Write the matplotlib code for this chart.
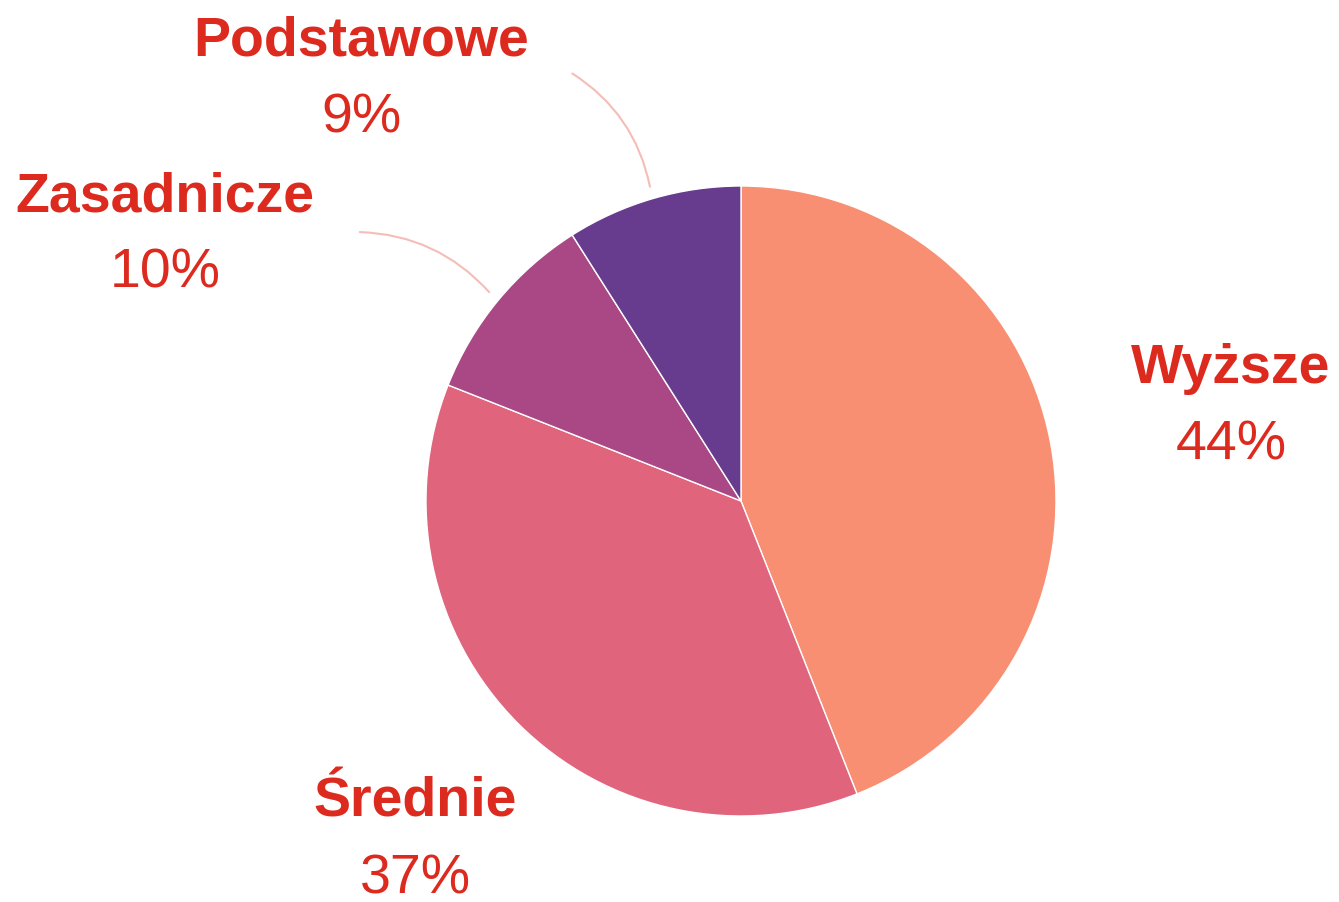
import numpy as np
import matplotlib.pyplot as plt

plt.rcParams['font.family'] = ['Liberation Sans', 'DejaVu Sans']

# dane
kategorie = ['Wyższe', 'Średnie', 'Zasadnicze', 'Podstawowe']
udzialy = [44, 37, 10, 9]
kolory = ['#F88F72', '#E0647C', '#AA4886', '#673C8E']

# pozycje etykiet (w pikselach, y od dołu)
etykiety_xy = [(1231, 534), (415, 100), (165, 706), (361, 862)]
# początki linii odniesienia dla małych wycinków
linie_start = {2: (357, 670), 3: (570, 830)}

W, H = 1339, 903
cx, cy, r = 741, 401, 315
czerwony = '#DD2A1F'

fig = plt.figure(figsize=(W / 100, H / 100), dpi=100)
ax = fig.add_axes([0, 0, 1, 1])

wedges, _ = ax.pie(udzialy, colors=kolory, startangle=90, counterclock=False,
                   center=(cx, cy), radius=r, frame=False,
                   wedgeprops=dict(edgecolor='white', linewidth=1.0))

ax.set_xlim(0, W)
ax.set_ylim(0, H)
ax.set_aspect('equal')
ax.axis('off')

for i, (nazwa, val) in enumerate(zip(kategorie, udzialy)):
    tx, ty = etykiety_xy[i]
    ax.text(tx, ty, nazwa, ha='center', va='center', fontsize=40,
            fontweight='bold', color=czerwony)
    ax.text(tx, ty - 77, f'{val}%', ha='center', va='center', fontsize=40,
            color=czerwony)
    if i in linie_start:
        w = wedges[i]
        kat = np.deg2rad((w.theta1 + w.theta2) / 2)
        ex = cx + r * 1.03 * np.cos(kat)
        ey = cy + r * 1.03 * np.sin(kat)
        ax.annotate('', xy=(ex, ey), xytext=linie_start[i],
                    arrowprops=dict(arrowstyle='-', color='#F5BDB8', lw=1.5,
                                    connectionstyle='arc3,rad=-0.22'))

fig.savefig('out.png', dpi=100, facecolor='white')
